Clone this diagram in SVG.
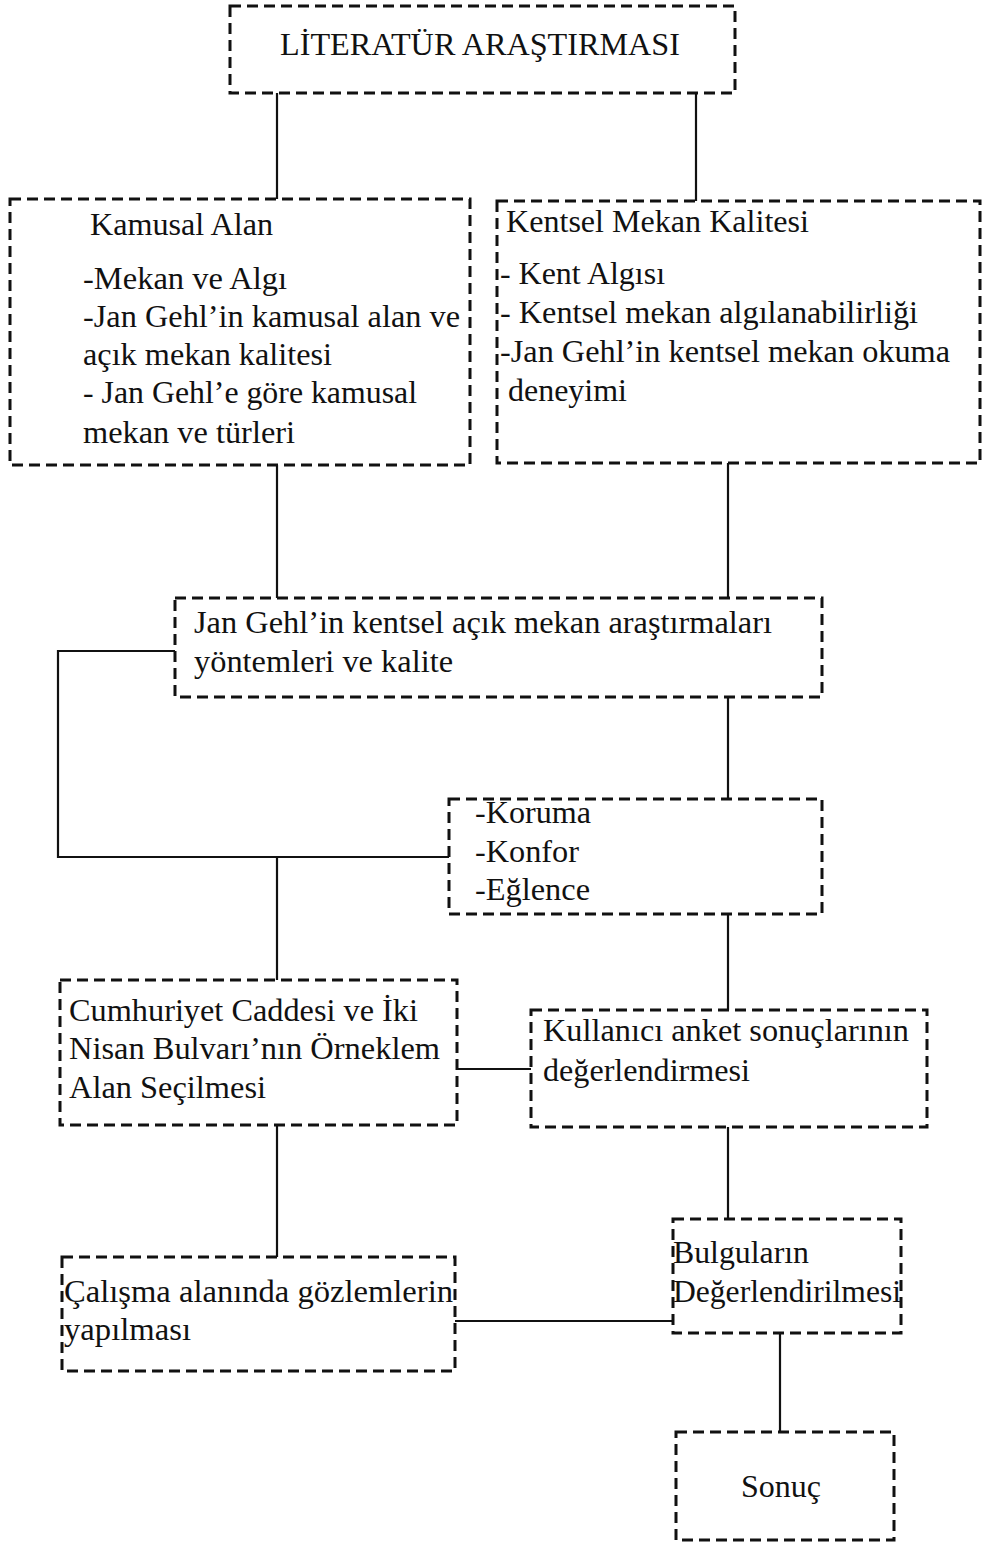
<svg xmlns="http://www.w3.org/2000/svg" width="982" height="1544" viewBox="0 0 982 1544">
<style>
.box{fill:none;stroke:#111;stroke-width:3;stroke-dasharray:11 6}
.t{font-family:"Liberation Serif","Times New Roman",serif;font-size:32px;fill:#111}
.c{fill:none;stroke:#111;stroke-width:2.2}
</style>
<rect width="982" height="1544" fill="#fff"/>
<g id="connectors">
<path class="c" d="M277 93V199"/>
<path class="c" d="M696 93V201"/>
<path class="c" d="M277 465V598"/>
<path class="c" d="M728 463V598"/>
<path class="c" d="M175 651H58V857H449"/>
<path class="c" d="M277 857V980"/>
<path class="c" d="M728 697V799"/>
<path class="c" d="M728 914V1010"/>
<path class="c" d="M457 1069H531"/>
<path class="c" d="M277 1125V1257"/>
<path class="c" d="M728 1127V1219"/>
<path class="c" d="M455 1321H673"/>
<path class="c" d="M780 1333V1432"/>
</g>
<g id="n1">
<rect class="box" x="230" y="6" width="505" height="87"/>
<text class="t" x="280" y="55" textLength="400" lengthAdjust="spacingAndGlyphs">LİTERATÜR ARAŞTIRMASI</text>
</g>
<g id="n2">
<rect class="box" x="10" y="199" width="460" height="266"/>
<text class="t" x="90" y="235" textLength="183" lengthAdjust="spacingAndGlyphs">Kamusal Alan</text>
<text class="t" x="83" y="289" textLength="204" lengthAdjust="spacingAndGlyphs">-Mekan ve Algı</text>
<text class="t" x="83" y="327" textLength="377" lengthAdjust="spacingAndGlyphs">-Jan Gehl’in kamusal alan ve</text>
<text class="t" x="83" y="365" textLength="249" lengthAdjust="spacingAndGlyphs">açık mekan kalitesi</text>
<text class="t" x="83" y="403" textLength="334" lengthAdjust="spacingAndGlyphs">- Jan Gehl’e göre kamusal</text>
<text class="t" x="83" y="443" textLength="212" lengthAdjust="spacingAndGlyphs">mekan ve türleri</text>
</g>
<g id="n3">
<rect class="box" x="497" y="201" width="483" height="262"/>
<text class="t" x="506" y="232" textLength="303" lengthAdjust="spacingAndGlyphs">Kentsel Mekan Kalitesi</text>
<text class="t" x="500" y="284" textLength="165" lengthAdjust="spacingAndGlyphs">- Kent Algısı</text>
<text class="t" x="500" y="323" textLength="418" lengthAdjust="spacingAndGlyphs">- Kentsel mekan algılanabilirliği</text>
<text class="t" x="500" y="362" textLength="450" lengthAdjust="spacingAndGlyphs">-Jan Gehl’in kentsel mekan okuma</text>
<text class="t" x="508" y="401" textLength="119" lengthAdjust="spacingAndGlyphs">deneyimi</text>
</g>
<g id="n4">
<rect class="box" x="175" y="598" width="647" height="99"/>
<text class="t" x="194" y="633" textLength="578" lengthAdjust="spacingAndGlyphs">Jan Gehl’in kentsel açık mekan araştırmaları</text>
<text class="t" x="194" y="672" textLength="259" lengthAdjust="spacingAndGlyphs">yöntemleri ve kalite</text>
</g>
<g id="n5">
<rect class="box" x="449" y="799" width="373" height="115"/>
<text class="t" x="475" y="823" textLength="116" lengthAdjust="spacingAndGlyphs">-Koruma</text>
<text class="t" x="475" y="862" textLength="104" lengthAdjust="spacingAndGlyphs">-Konfor</text>
<text class="t" x="475" y="900" textLength="115" lengthAdjust="spacingAndGlyphs">-Eğlence</text>
</g>
<g id="n6">
<rect class="box" x="60" y="980" width="397" height="145"/>
<text class="t" x="69" y="1021" textLength="349" lengthAdjust="spacingAndGlyphs">Cumhuriyet Caddesi ve İki</text>
<text class="t" x="69" y="1059" textLength="371" lengthAdjust="spacingAndGlyphs">Nisan Bulvarı’nın Örneklem</text>
<text class="t" x="69" y="1098" textLength="197" lengthAdjust="spacingAndGlyphs">Alan Seçilmesi</text>
</g>
<g id="n7">
<rect class="box" x="531" y="1010" width="396" height="117"/>
<text class="t" x="543" y="1041" textLength="366" lengthAdjust="spacingAndGlyphs">Kullanıcı anket sonuçlarının</text>
<text class="t" x="543" y="1081" textLength="207" lengthAdjust="spacingAndGlyphs">değerlendirmesi</text>
</g>
<g id="n8">
<rect class="box" x="62" y="1257" width="393" height="114"/>
<text class="t" x="64" y="1302" textLength="389" lengthAdjust="spacingAndGlyphs">Çalışma alanında gözlemlerin</text>
<text class="t" x="64" y="1340" textLength="127" lengthAdjust="spacingAndGlyphs">yapılması</text>
</g>
<g id="n9">
<rect class="box" x="673" y="1219" width="228" height="114"/>
<text class="t" x="673" y="1263" textLength="136" lengthAdjust="spacingAndGlyphs">Bulguların</text>
<text class="t" x="673" y="1302" textLength="228" lengthAdjust="spacingAndGlyphs">Değerlendirilmesi</text>
</g>
<g id="n10">
<rect class="box" x="676" y="1432" width="218" height="108"/>
<text class="t" x="741" y="1497" textLength="80" lengthAdjust="spacingAndGlyphs">Sonuç</text>
</g>
</svg>
